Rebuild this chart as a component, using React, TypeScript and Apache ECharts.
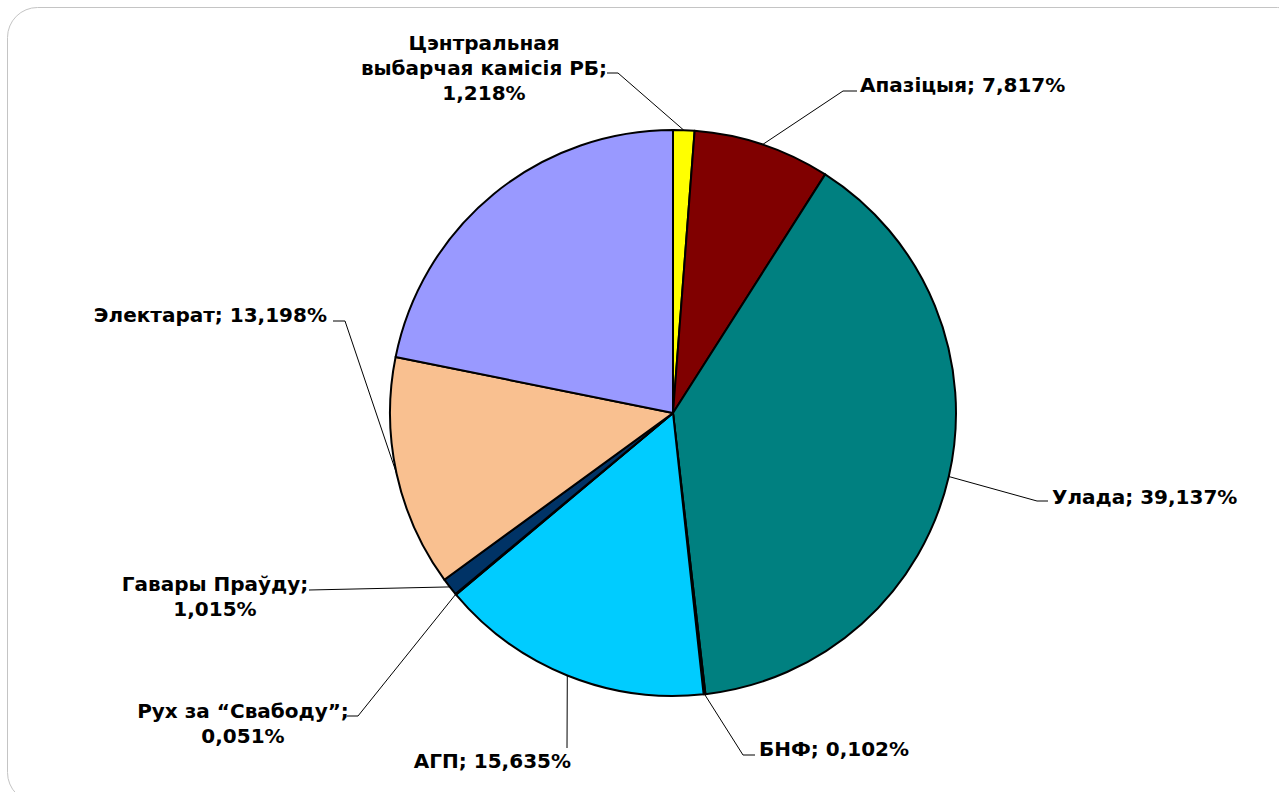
import React, { useEffect, useRef } from "react";
import * as echarts from "echarts";

// Slice names (clockwise from the top) and their shares, %
const sliceNames = [
  "Цэнтральная\nвыбарчая камісія РБ",
  "Апазіцыя",
  "Улада",
  "БНФ",
  "АГП",
  "Рух за “Свабоду”",
  "Гавары Праўду",
  "Электарат",
  "Іншае",
];
const sliceValues = [1.218, 7.817, 39.137, 0.102, 15.635, 0.051, 1.015, 13.198, 21.827];
const sliceColors = [
  "#FFFF00",
  "#800000",
  "#008080",
  "#1a1a66",
  "#00CCFF",
  "#0a2a55",
  "#003366",
  "#F9C090",
  "#9999FF",
];
const showLabel = [true, true, true, true, true, true, true, true, false];
const valueOnNewLine = [true, false, false, false, false, true, true, false, false];

// label placement: anchor, alignment and leader-line bend/end points
const labelPlacement: any[] = [
  { x: 484, y: 68, align: "center", line: [[618, 73], [607, 73]] },
  { x: 860, y: 85, align: "left", line: [[843, 91], [857, 91]] },
  { x: 1052, y: 497, align: "left", line: [[1037, 501], [1048, 501]] },
  { x: 759, y: 749, align: "left", line: [[743, 755], [755, 755]] },
  { x: 571, y: 761, align: "right", line: [[567, 748]] },
  { x: 243, y: 723, align: "center", line: [[358, 716], [347, 716]] },
  { x: 215, y: 596, align: "center", line: [[309, 590]] },
  { x: 327, y: 315, align: "right", line: [[345, 321], [333, 321]] },
  null,
];

const fmt = (v: number) => v.toFixed(3).replace(".", ",") + "%";

export default function App() {
  const ref = useRef<HTMLDivElement>(null);
  useEffect(() => {
    if (!ref.current) return;
    const chart = echarts.init(ref.current, null, { renderer: "svg" });
    const data = sliceNames.map((name, i) => ({
      name,
      value: sliceValues[i],
      itemStyle: { color: sliceColors[i] },
      label: { show: showLabel[i] },
      labelLine: { show: showLabel[i] },
    }));
    chart.setOption({
      animation: false,
      backgroundColor: "#ffffff",
      graphic: [
        {
          type: "rect",
          silent: true,
          z: -10,
          shape: { x: 7.5, y: 7.5, width: 1300, height: 795, r: 30 },
          style: { fill: "#ffffff", stroke: "#c4c4c4", lineWidth: 1 },
        },
      ],
      series: [
        {
          type: "pie",
          center: [673, 413],
          radius: 283,
          startAngle: 90,
          clockwise: true,
          silent: true,
          avoidLabelOverlap: false,
          itemStyle: { borderColor: "#000000", borderWidth: 2 },
          emphasis: { disabled: true },
          label: {
            show: true,
            position: "outside",
            color: "#000000",
            fontFamily: "DejaVu Sans",
            fontWeight: "bold",
            fontSize: 20,
            lineHeight: 25,
            formatter: (p: any) =>
              p.name + ";" + (valueOnNewLine[p.dataIndex] ? "\n" : " ") + fmt(p.value),
          },
          labelLine: { show: true, lineStyle: { color: "#000000", width: 1 } },
          labelLayout: (params: any) => {
            const cfg = labelPlacement[params.dataIndex];
            if (!cfg) return {};
            const pts = params.labelLinePoints;
            const start = pts && pts[0] ? pts[0] : null;
            const out: any = {
              x: cfg.x,
              y: cfg.y,
              align: cfg.align,
              verticalAlign: "middle",
            };
            if (start) out.labelLinePoints = [start, ...cfg.line];
            return out;
          },
          data,
        },
      ],
    });
    return () => chart.dispose();
  }, []);
  return (
    <div
      ref={ref}
      style={{ position: "fixed", left: 0, top: 0, width: 1279, height: 792 }}
    />
  );
}
